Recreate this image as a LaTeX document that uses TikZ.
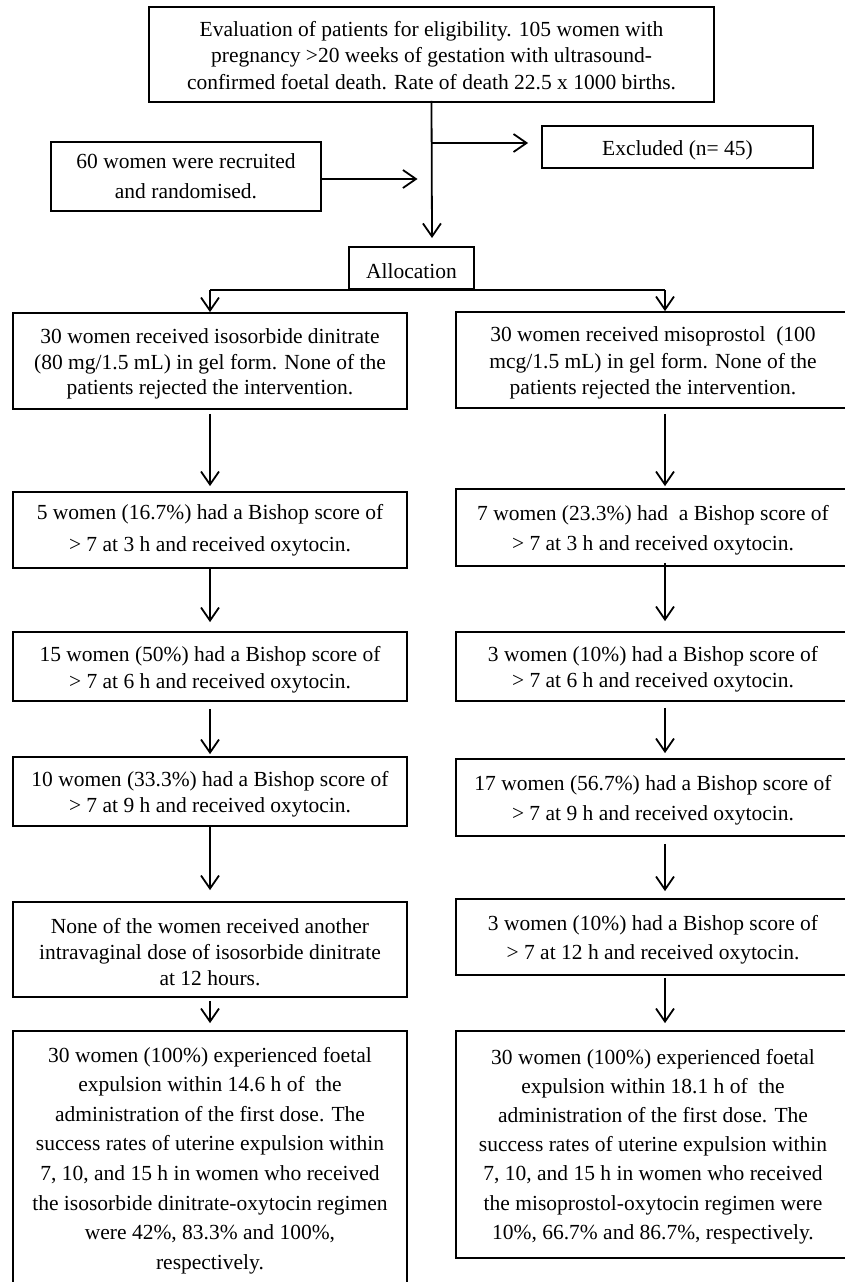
\documentclass[tikz,border=0pt]{standalone}
\usepackage{fontspec}
\setmainfont{Liberation Serif}
\usetikzlibrary{arrows.meta}
\newcommand\fl{\rule{0pt}{21pt}}
\tikzset{
  box/.style={draw, line width=1.8pt, inner sep=0pt, align=center, font=\fontsize{21.5}{26}\selectfont},
  ls/.style={font=\fontsize{21.5}{#1}\selectfont},
  arr/.style={line width=1.8pt, -{Straight Barb[length=13pt,width=18pt]}},
  ln/.style={line width=1.8pt},
}
\begin{document}
\begin{tikzpicture}[x=1pt,y=1pt]
\useasboundingbox (0,0) rectangle (844,-1282);
\fill[white] (0,0) rectangle (844,-1282);
% top part
\node[box, ls=26.5, minimum width=565, minimum height=95] (top) at (431.5,-54.5)
  {\rule{0pt}{17pt}Evaluation of patients for eligibility. 105 women with\\ pregnancy >20 weeks of gestation with ultrasound-\\ confirmed foetal death. Rate of death 22.5 x 1000 births.};
\node[box, minimum width=271, minimum height=42] (excl) at (677.5,-147) {\fl Excluded (n= 45)};
\node[box, ls=30, minimum width=270, minimum height=69] (rec) at (186,-176.5) {60 women were recruited\\ and randomised.};
\node[box, minimum width=125, minimum height=42] (alloc) at (411.5,-268) {\fl Allocation};
\coordinate (tip) at (432,-238);
\coordinate (rx) at (665,0);
% left column
\node[box, ls=25.5, minimum width=394, minimum height=96] (L1) at (210,-361)
  {\fl 30 women received isosorbide dinitrate\\ (80 mg/1.5 mL) in gel form. None of the\\ patients rejected the intervention.};
\node[box, ls=32, minimum width=394, minimum height=76] (L2) at (210,-530)
  {5 women (16.7\%) had a Bishop score of\\ > 7 at 3 h and received oxytocin.};
\node[box, ls=27, minimum width=394, minimum height=69] (L3) at (210,-666.5)
  {\fl 15 women (50\%) had a Bishop score of\\ > 7 at 6 h and received oxytocin.};
\node[box, ls=26, minimum width=394, minimum height=69] (L4) at (210,-791.5)
  {\fl 10 women (33.3\%) had a Bishop score of\\ > 7 at 9 h and received oxytocin.};
\node[box, ls=26, minimum width=394, minimum height=95] (L5) at (210,-949.5)
  {\fl None of the women received another\\ intravaginal dose of isosorbide dinitrate\\ at 12 hours.};
\node[box, ls=29.6, minimum width=394, minimum height=255] (L6) at (210,-1158.5)
  {\rule{0pt}{19pt}30 women (100\%) experienced foetal\\ expulsion within 14.6 h of\ \ the\\ administration of the first dose. The\\ success rates of uterine expulsion within\\ 7, 10, and 15 h in women who received\\ the isosorbide dinitrate-oxytocin regimen\\ were 42\%, 83.3\% and 100\%,\\ respectively.};
% right column
\node[box, ls=26.7, minimum width=394, minimum height=96] (R1) at (653,-360)
  {\fl 30 women received misoprostol\ \ (100\\ mcg/1.5 mL) in gel form. None of the\\ patients rejected the intervention.};
\node[box, ls=30, minimum width=394, minimum height=77] (R2) at (653,-527.5)
  {\fl 7 women (23.3\%) had\ \ a Bishop score of\\ > 7 at 3 h and received oxytocin.};
\node[box, ls=26, minimum width=394, minimum height=69] (R3) at (653,-666.5)
  {\fl 3 women (10\%) had a Bishop score of\\ > 7 at 6 h and received oxytocin.};
\node[box, ls=29.5, minimum width=394, minimum height=77] (R4) at (653,-797.5)
  {\fl 17 women (56.7\%) had a Bishop score of\\ > 7 at 9 h and received oxytocin.};
\node[box, ls=29, minimum width=394, minimum height=76] (R5) at (653,-937)
  {\fl 3 women (10\%) had a Bishop score of\\ > 7 at 12 h and received oxytocin.};
\node[box, ls=29.2, minimum width=394, minimum height=227] (R6) at (653,-1144.5)
  {\rule{0pt}{19pt}30 women (100\%) experienced foetal\\ expulsion within 18.1 h of\ \ the\\ administration of the first dose. The\\ success rates of uterine expulsion within\\ 7, 10, and 15 h in women who received\\ the misoprostol-oxytocin regimen were\\ 10\%, 66.7\% and 86.7\%, respectively.};
% connectors top
\draw[arr, shorten <=-2pt] (top.south) -- (tip);
\draw[arr, shorten >=13pt] ([yshift=4pt]top.south |- excl.west) -- ([yshift=4pt]excl.west);
\draw[arr, shorten >=14pt] ([yshift=-2.5pt]rec.east) -- ([yshift=-2.5pt]rec.east -| top.south);
% allocation split
\draw[ln] (L1.north |- alloc.south) -- (rx |- alloc.south);
\draw[arr] (L1.north |- alloc.south) -- (L1.north);
\draw[arr] (rx |- alloc.south) -- (rx |- R1.north);
% left chain
\draw[arr, shorten <=4pt, shorten >=5pt] (L1.south) -- (L2.north);
\draw[arr, shorten >=9pt] (L2.south) -- (L3.north);
\draw[arr, shorten <=7pt, shorten >=2pt] (L3.south) -- (L4.north);
\draw[arr, shorten >=11pt] (L4.south) -- (L5.north);
\draw[arr, shorten <=3pt, shorten >=7pt] (L5.south) -- (L6.north);
% right chain
\draw[arr, shorten <=5pt, shorten >=2pt] (rx |- R1.south) -- (rx |- R2.north);
\draw[arr, shorten >=10pt] ([yshift=4pt]rx |- R2.south) -- (rx |- R3.north);
\draw[arr, shorten <=6pt, shorten >=5pt] (rx |- R3.south) -- (rx |- R4.north);
\draw[arr, shorten <=7pt, shorten >=7pt] (rx |- R4.south) -- (rx |- R5.north);
\draw[arr, shorten <=2pt, shorten >=7pt] (rx |- R5.south) -- (rx |- R6.north);
\end{tikzpicture}
\end{document}
